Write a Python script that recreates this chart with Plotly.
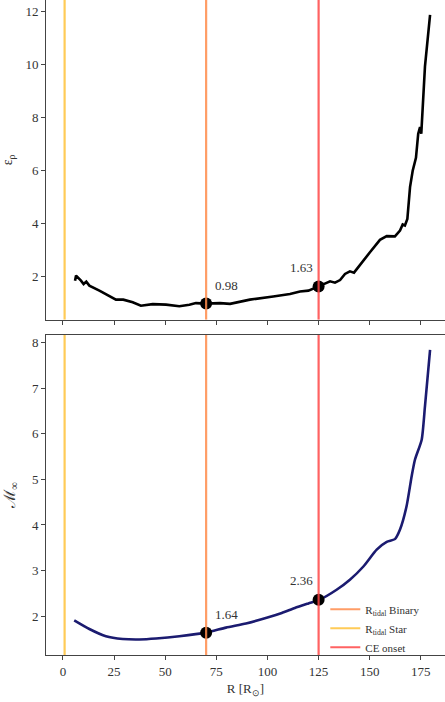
import plotly.graph_objects as go
from plotly.subplots import make_subplots

# ---- data ----
R_eps = [5.9, 6.4, 8.8, 10.1, 11.4, 12.9, 17.8, 21.8, 25.9, 29.5, 34.1, 38.1, 43.9, 50.4, 56.9,
         61.8, 65.0, 70.0, 76.8, 81.7, 91.4, 102.8, 111.0, 115.9, 120.0, 125.0, 128.9, 130.6,
         133.0, 135.5, 137.9, 140.3, 142.3, 145.2, 150.1, 155.0, 158.3, 162.3, 164.8, 166.1,
         167.2, 168.4, 169.7, 171.0, 172.6, 173.7, 174.6, 175.2, 177.0, 179.5]
eps = [1.84, 2.04, 1.85, 1.72, 1.81, 1.66, 1.47, 1.31, 1.13, 1.13, 1.03, 0.90, 0.96, 0.94, 0.88,
       0.94, 1.00, 0.98, 1.00, 0.97, 1.13, 1.25, 1.34, 1.44, 1.47, 1.63, 1.76, 1.82,
       1.77, 1.87, 2.10, 2.20, 2.15, 2.42, 2.92, 3.39, 3.53, 3.52, 3.74, 3.97,
       3.93, 4.18, 5.38, 6.00, 6.49, 7.40, 7.65, 7.40, 9.93, 11.89]

R_mach = [5.5, 12.9, 21.0, 29.2, 37.3, 45.5, 56.9, 69.9, 79.7, 89.5, 100.0, 107.0, 113.4, 120.0,
          125.4, 133.8, 140.3, 146.9, 153.4, 158.3, 162.3, 164.8, 168.0, 170.5, 172.1, 175.4,
          177.0, 179.5]
mach = [1.91, 1.72, 1.56, 1.50, 1.49, 1.51, 1.56, 1.64, 1.75, 1.84, 1.97, 2.07, 2.18, 2.28,
        2.36, 2.58, 2.80, 3.09, 3.46, 3.63, 3.69, 3.90, 4.41, 5.07, 5.43, 5.87,
        6.60, 7.84]

R_mark = [70, 125]
eps_mark = [0.98, 1.63]
mach_mark = [1.64, 2.36]

vline_names = ["R<sub>tidal</sub> Binary", "R<sub>tidal</sub> Star", "CE onset"]
vline_R = [70, 0.8, 125]
vline_colors = ["#FF8C4C", "#FFC23A", "#FF4747"]

x_ticks = [0, 25, 50, 75, 100, 125, 150, 175]
eps_ticks = [2, 4, 6, 8, 10, 12]
mach_ticks = [2, 3, 4, 5, 6, 7, 8]

x_range = [-8.3, 186.8]
eps_range = [0.37, 12.45]
mach_range = [1.15, 8.17]

FONT = "Liberation Serif"
TXT = "#333333"

fig = make_subplots(rows=2, cols=1, shared_xaxes=False, vertical_spacing=0.0)

fig.add_trace(go.Scatter(x=R_eps, y=eps, mode="lines", line=dict(color="black", width=2.6),
                         showlegend=False), row=1, col=1)
fig.add_trace(go.Scatter(x=R_mach, y=mach, mode="lines",
                         line=dict(color="#1B1B70", width=2.6, shape="spline", smoothing=0.6),
                         showlegend=False), row=2, col=1)
fig.add_trace(go.Scatter(x=R_mark, y=eps_mark, mode="markers",
                         marker=dict(color="black", size=12), showlegend=False), row=1, col=1)
fig.add_trace(go.Scatter(x=R_mark, y=mach_mark, mode="markers",
                         marker=dict(color="black", size=12), showlegend=False), row=2, col=1)

for name, rv, c in zip(vline_names, vline_R, vline_colors):
    fig.add_trace(go.Scatter(x=[rv, rv], y=eps_range, mode="lines",
                             line=dict(color=c, width=2.2), opacity=0.85,
                             showlegend=False, hoverinfo="skip"), row=1, col=1)
    fig.add_trace(go.Scatter(x=[rv, rv], y=mach_range, mode="lines", name=name,
                             line=dict(color=c, width=2.2), opacity=0.85,
                             showlegend=True, hoverinfo="skip"), row=2, col=1)

# annotations with values
offsets = [(20, 18), (-17, 19)]
for (r, v), (dx, dy) in zip(zip(R_mark, eps_mark), offsets):
    fig.add_annotation(x=r, y=v, xref="x", yref="y", text=f"{v:.2f}", showarrow=False,
                       xshift=dx, yshift=dy, font=dict(family=FONT, size=13, color=TXT))
for (r, v), (dx, dy) in zip(zip(R_mark, mach_mark), offsets):
    fig.add_annotation(x=r, y=v, xref="x2", yref="y2", text=f"{v:.2f}", showarrow=False,
                       xshift=dx, yshift=dy, font=dict(family=FONT, size=13, color=TXT))

H = 702
plot_h = 655.5
top_lo = (plot_h - 320) / plot_h
bot_hi = (plot_h - 335) / plot_h

axis_common = dict(showline=True, linecolor="#444444", linewidth=1, ticks="outside",
                   ticklen=4, tickwidth=1, tickcolor="#444444", showgrid=False, zeroline=False,
                   tickfont=dict(family=FONT, size=13, color=TXT))

fig.update_layout(
    width=445, height=H,
    margin=dict(l=46, r=0, t=0, b=H - plot_h),
    paper_bgcolor="white", plot_bgcolor="white",
    font=dict(family=FONT, size=13, color=TXT),
    xaxis=dict(**axis_common, range=x_range, tickvals=x_ticks, showticklabels=False,
               mirror=True, anchor="y"),
    yaxis=dict(**axis_common, range=eps_range, tickvals=eps_ticks, domain=[top_lo, 1],
               title=dict(text="ε<sub>ρ</sub>", font=dict(family=FONT, size=14, color=TXT),
                          standoff=12)),
    xaxis2=dict(**axis_common, range=x_range, tickvals=x_ticks, mirror=True, anchor="y2",
                title=dict(text="R [R<sub>⊙</sub>]", font=dict(family=FONT, size=13, color=TXT),
                           standoff=6)),
    yaxis2=dict(**axis_common, range=mach_range, tickvals=mach_ticks, domain=[0, bot_hi],
                title=dict(text="ℳ<sub>∞</sub>", font=dict(family=FONT, size=16, color=TXT),
                           standoff=12)),
    legend=dict(x=0.70, y=0.092, xanchor="left", yanchor="top", bgcolor="rgba(0,0,0,0)",
                font=dict(family=FONT, size=11, color=TXT), tracegroupgap=0,
                itemwidth=30),
)

fig.write_html("out.html")
